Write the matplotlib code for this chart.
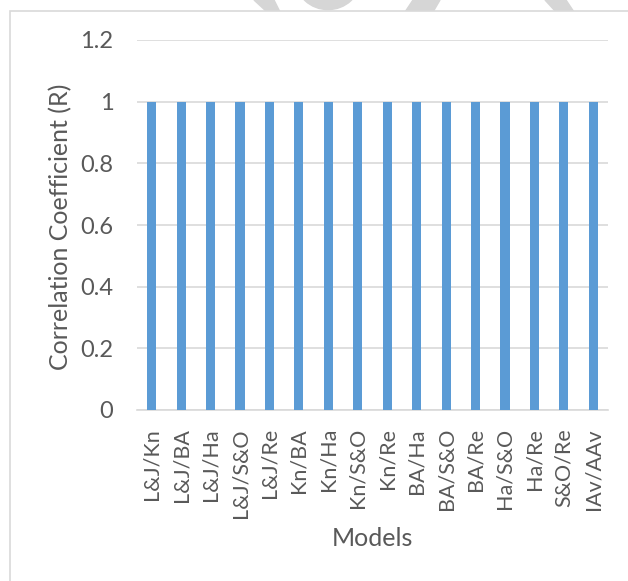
import matplotlib.pyplot as plt
from matplotlib.patches import Polygon, Rectangle, Wedge

plt.rcParams['font.family'] = ['Lato', 'DejaVu Sans']

# model pairs and their correlation coefficients
models = ['L&J/Kn', 'L&J/BA', 'L&J/Ha', 'L&J/S&O', 'L&J/Re', 'Kn/BA', 'Kn/Ha', 'Kn/S&O',
          'Kn/Re', 'BA/Ha', 'BA/S&O', 'BA/Re', 'Ha/S&O', 'Ha/Re', 'S&O/Re', 'IAv/AAv']
r_values = [1, 1, 1, 1, 1, 1, 1, 1, 1, 1, 1, 1, 1, 1, 1, 1]
y_ticks = [0, 0.2, 0.4, 0.6, 0.8, 1, 1.2]
y_tick_labels = ['0', '0.2', '0.4', '0.6', '0.8', '1', '1.2']

W, H = 628, 581
txt = '#595959'
fig = plt.figure(figsize=(W / 100, H / 100), dpi=100)


def px(x, y):
    # pixel position (from top-left) -> figure fraction
    return [x / W, 1 - y / H]


# faint watermark shapes peeking in above the chart frame
wm = '#d6d6d6'
for poly in ([(254, 0), (274, 0), (280, 12), (267, 12)],
             [(413, 0), (440, 0), (433, 12), (405, 12)],
             [(545, 0), (566, 0), (574, 12), (556, 12)]):
    fig.patches.append(Polygon([px(*p) for p in poly], closed=True,
                               transform=fig.transFigure, color=wm, zorder=0))
fig.patches.append(Wedge((328 / W, 1 + 20 / H), 32 / W, 180, 360, width=12 / W,
                         transform=fig.transFigure, color=wm, zorder=0))

# chart frame (runs off the right and bottom edges)
fig.patches.append(Rectangle((10 / W, -0.05), 1.1, 1 - 11 / H + 0.05, transform=fig.transFigure,
                             facecolor='white', edgecolor='#d9d9d9', linewidth=1.2, zorder=1))

ax = fig.add_axes([137 / W, 1 - 410 / H, (608 - 137) / W, (410 - 40) / H])
ax.set_zorder(2)
ax.patch.set_alpha(0)

x = range(len(models))
ax.bar(x, r_values, width=0.31, color='#5b9bd5', zorder=3)

ax.set_xlim(-0.5, len(models) - 0.5)
ax.set_ylim(0, 1.2)
ax.set_yticks(y_ticks)
ax.set_yticklabels(y_tick_labels)
ax.set_xticks(list(x))
ax.set_xticklabels(models, rotation=90)

# grid and axes styling
ax.grid(axis='y', color='#d9d9d9', linewidth=1.2, zorder=0)
for side in ['top', 'right', 'left']:
    ax.spines[side].set_visible(False)
ax.spines['bottom'].set_color('#d9d9d9')
ax.spines['bottom'].set_linewidth(1.2)
ax.tick_params(axis='y', length=0, labelsize=17, colors=txt, pad=17)
ax.tick_params(axis='x', length=0, labelsize=15.5, colors=txt, pad=13)

# axis titles
fig.text(61 / W, 1 - 227 / H, 'Correlation Coefficient (R)', rotation=90,
         ha='center', va='center', fontsize=18, color=txt)
fig.text(372 / W, 1 - 539 / H, 'Models', ha='center', va='center', fontsize=18, color=txt)

plt.savefig('out.png', dpi=100)
